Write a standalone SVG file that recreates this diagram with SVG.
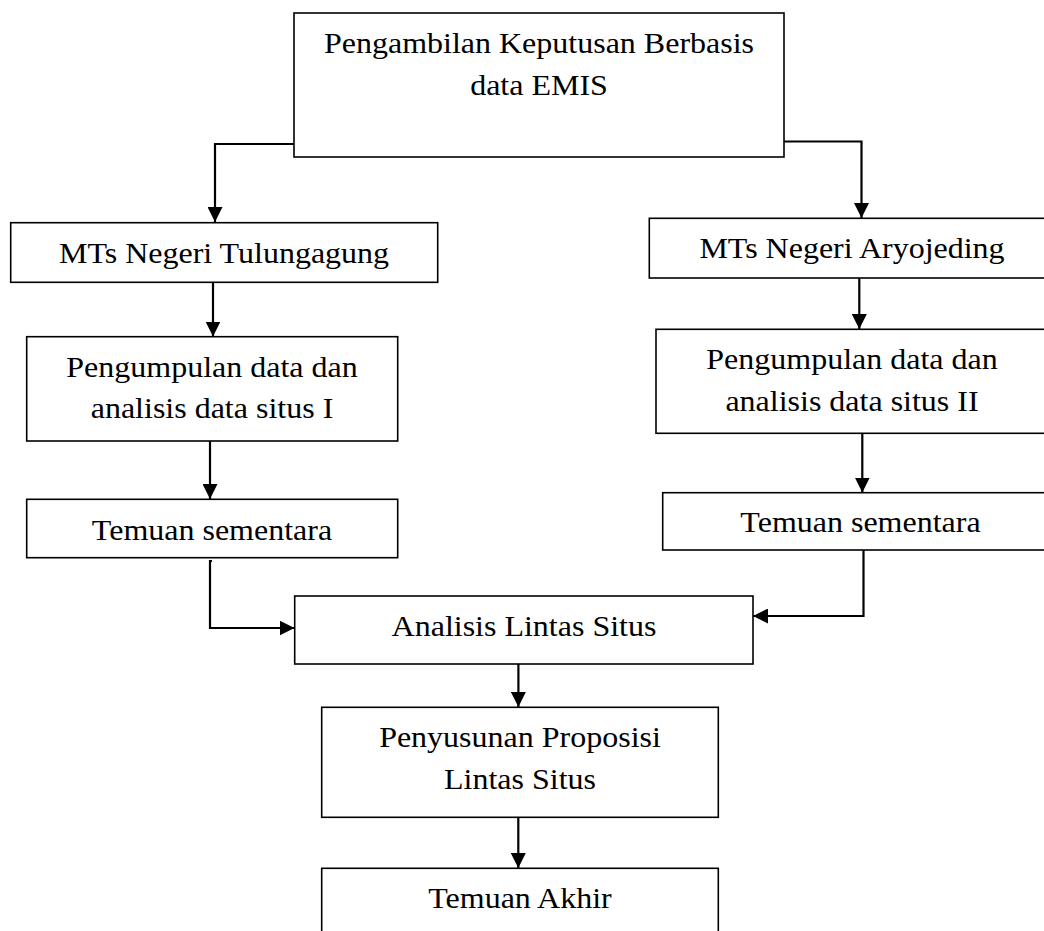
<svg xmlns="http://www.w3.org/2000/svg" width="1044" height="931" viewBox="0 0 1044 931">
<style>
.box{fill:#fff;stroke:#000;stroke-width:1.6}
.t{font-family:"Liberation Serif","Times New Roman",serif;font-size:29.5px;fill:#000;text-anchor:middle}
.c{fill:none;stroke:#000;stroke-width:2.2}
</style>
<defs>
<marker id="ah" markerUnits="userSpaceOnUse" markerWidth="15" markerHeight="15" refX="15" refY="7.5" orient="auto" viewBox="0 0 15 15">
<path d="M0,0 L15,7.5 L0,15 Z" fill="#000"/>
</marker>
</defs>
<rect width="1044" height="931" fill="#fff"/>
<g id="n-top"><rect class="box" x="294" y="13" width="490" height="144"/><text class="t" transform="translate(539,53) scale(1.085,1)">Pengambilan Keputusan Berbasis</text><text class="t" transform="translate(539,95) scale(1.085,1)">data EMIS</text></g>
<g id="n-mts-tulungagung"><rect class="box" x="10.7" y="222.7" width="427" height="59.6"/><text class="t" transform="translate(224,262.5) scale(1.085,1)">MTs Negeri Tulungagung</text></g>
<g id="n-pengumpulan-1"><rect class="box" x="26.7" y="336.7" width="371" height="104.3"/><text class="t" transform="translate(212,377) scale(1.085,1)">Pengumpulan data dan</text><text class="t" transform="translate(212,418) scale(1.085,1)">analisis data situs I</text></g>
<g id="n-temuan-1"><rect class="box" x="26.7" y="499.3" width="371" height="58.4"/><text class="t" transform="translate(212,540) scale(1.085,1)">Temuan sementara</text></g>
<g id="n-mts-aryojeding"><rect class="box" x="649.3" y="218.3" width="406" height="59.7"/><text class="t" transform="translate(852,258) scale(1.085,1)">MTs Negeri Aryojeding</text></g>
<g id="n-pengumpulan-2"><rect class="box" x="656" y="329.3" width="400" height="104"/><text class="t" transform="translate(852,369) scale(1.085,1)">Pengumpulan data dan</text><text class="t" transform="translate(852,411) scale(1.085,1)">analisis data situs II</text></g>
<g id="n-temuan-2"><rect class="box" x="662.7" y="492.7" width="400" height="57.3"/><text class="t" transform="translate(860.5,532) scale(1.085,1)">Temuan sementara</text></g>
<g id="n-analisis"><rect class="box" x="294.7" y="596" width="458.3" height="68"/><text class="t" transform="translate(524,636) scale(1.085,1)">Analisis Lintas Situs</text></g>
<g id="n-penyusunan"><rect class="box" x="321.7" y="707.3" width="396.6" height="110"/><text class="t" transform="translate(520,747) scale(1.085,1)">Penyusunan Proposisi</text><text class="t" transform="translate(520,789) scale(1.085,1)">Lintas Situs</text></g>
<g id="n-akhir"><rect class="box" x="321.7" y="868.3" width="396.6" height="80"/><text class="t" transform="translate(520,908) scale(1.085,1)">Temuan Akhir</text></g>
<g id="connectors">
<polyline class="c" points="294,144 215,144 215,222" marker-end="url(#ah)"/>
<polyline class="c" points="784,141.5 861.5,141.5 861.5,218" marker-end="url(#ah)"/>
<line class="c" x1="213" y1="282.3" x2="213" y2="336.5" marker-end="url(#ah)"/>
<line class="c" x1="859.3" y1="278" x2="859.3" y2="329" marker-end="url(#ah)"/>
<line class="c" x1="210" y1="441" x2="210" y2="499" marker-end="url(#ah)"/>
<line class="c" x1="862.3" y1="433.3" x2="862.3" y2="492.5" marker-end="url(#ah)"/>
<polyline class="c" points="212,561 210,561 210,628 294.5,628" marker-end="url(#ah)"/>
<polyline class="c" points="863.5,550 863.5,616 753,616" marker-end="url(#ah)"/>
<line class="c" x1="518.4" y1="664" x2="518.4" y2="707" marker-end="url(#ah)"/>
<line class="c" x1="518.3" y1="817.3" x2="518.3" y2="868" marker-end="url(#ah)"/>
</g>
</svg>
